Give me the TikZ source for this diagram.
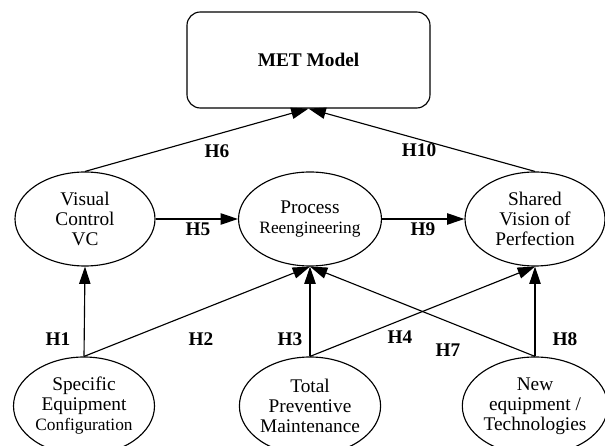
\documentclass[tikz,border=0pt]{standalone}
\usepackage{fontspec}
\setmainfont{Liberation Serif}
\usetikzlibrary{arrows.meta,shapes.geometric}

\begin{document}
\begin{tikzpicture}[x=0.75pt,y=0.75pt,
  construct/.style={draw,ellipse,line width=0.85pt,inner sep=0pt,align=center,
    minimum width=105pt,minimum height=70.5pt,font=\fontsize{14.5}{15}\selectfont},
  source/.style={construct,minimum width=105.75pt,minimum height=73.5pt},
  hyp/.style={font=\fontsize{14.5}{17}\selectfont\bfseries},
  link/.style={-{Triangle[length=13pt,width=8.5pt]},line width=0.85pt}]
  \clip (0,0) rectangle (605,445);
  % outcome
  \node[draw,rounded corners=10pt,line width=0.85pt,minimum width=182.25pt,minimum height=72pt,
    font=\fontsize{14.5}{17}\selectfont\bfseries] (met) at (308.5,385) {MET Model};
  % middle row
  \node[construct] (vc) at (85,226) {Visual\\Control\\VC};
  \node[construct] (pr) at (310,226) {Process\\{\fontsize{13}{15}\selectfont Reengineering}};
  \node[construct] (sv) at (535,226) {Shared\\Vision of\\Perfection};
  % bottom row
  \node[source] (sec) at (84,39) {Specific\\Equipment\\{\fontsize{13}{15}\selectfont Configuration}};
  \node[source] (tpm) at (310,39) {Total\\Preventive\\Maintenance};
  \node[source] (net) at (535,39) {New\\equipment /\\Technologies};
  % hypotheses
  \draw[link] (sec.north) -- (vc.south);
  \draw[link] (sec.north) -- (pr.south);
  \draw[link] (tpm.north) -- (pr.south);
  \draw[link] (tpm.north) -- (sv.south);
  \draw[link] (net.north) -- (pr.south);
  \draw[link] (net.north) -- (sv.south);
  \draw[link] (vc.east) -- (pr.west);
  \draw[link] (pr.east) -- (sv.west);
  \draw[link] (vc.north) -- (met.south);
  \draw[link] (sv.north) -- (met.south);
  \node[hyp] (h1) at (58,106) {H1};
  \node[hyp] (h2) at (201,106) {H2};
  \node[hyp] (h3) at (290,106) {H3};
  \node[hyp] (h4) at (400,108) {H4};
  \node[hyp] (h5) at (198,216) {H5};
  \node[hyp] (h6) at (217,294) {H6};
  \node[hyp] (h7) at (448,95) {H7};
  \node[hyp] (h8) at (565,106) {H8};
  \node[hyp] (h9) at (423,216) {H9};
  \node[hyp] (h10) at (419,295) {H10};
\end{tikzpicture}
\end{document}
